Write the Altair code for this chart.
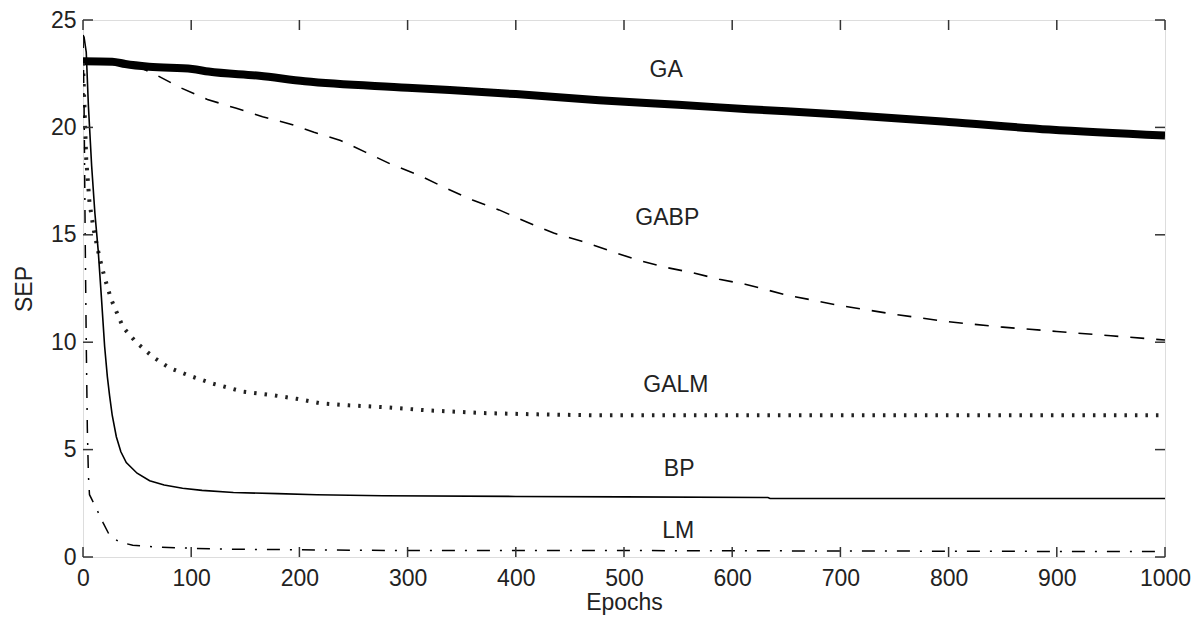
import altair as alt
import pandas as pd

# ---- data ----
ga_x = [0, 27, 39, 61, 101, 116, 163, 205, 300, 400, 477, 550, 615, 700, 800, 893, 1000]
ga_y = [23.08, 23.06, 22.95, 22.82, 22.72, 22.6, 22.4, 22.15, 21.85, 21.55, 21.26, 21.05, 20.85, 20.6, 20.25, 19.9, 19.62]

gabp_x = [0, 27, 50, 67, 90, 115, 141, 166, 192, 213.5, 238, 261, 284, 310.5, 336, 360, 384.5, 409, 435, 461,
          486, 511, 537, 563, 588, 612, 650, 700, 750, 800, 850, 900, 950, 1000]
gabp_y = [23.08, 23.05, 22.85, 22.46, 21.85, 21.3, 20.9, 20.5, 20.15, 19.77, 19.39, 18.85, 18.3, 17.77, 17.16,
          16.62, 16.16, 15.62, 15.08, 14.7, 14.27, 13.85, 13.5, 13.24, 12.93, 12.7, 12.2, 11.7, 11.3, 10.95,
          10.7, 10.5, 10.3, 10.1]

galm_x = [0, 1, 3, 6, 10, 15, 20, 26, 37, 49, 65, 80, 99, 120, 148, 176, 197, 219, 246, 277, 320, 370, 420, 470, 1000]
galm_y = [23.0, 21.5, 18.5, 16.5, 15.2, 14.0, 13.0, 12.0, 10.7, 10.0, 9.3, 8.8, 8.43, 8.07, 7.7, 7.53, 7.37, 7.16,
          7.06, 6.98, 6.82, 6.7, 6.64, 6.6, 6.6]

bp_x = [0, 1, 3, 5, 8, 11, 14, 17, 20, 22.5, 24.6, 27, 30.8, 35, 40, 50, 61.6, 75, 92, 110, 139, 180, 216, 277,
        400, 500, 633, 635, 1000]
bp_y = [24.3, 24.2, 23.5, 21.0, 18.2, 16.0, 14.3, 12.1, 9.8, 8.4, 7.5, 6.6, 5.6, 4.9, 4.4, 3.9, 3.55, 3.35, 3.2,
        3.1, 3.0, 2.95, 2.9, 2.85, 2.82, 2.8, 2.77, 2.72, 2.72]

lm_x = [0, 1, 2, 3, 4, 5, 6, 11, 18.5, 24.6, 34, 46, 68, 123, 216, 300, 500, 700, 1000]
lm_y = [24.3, 21.0, 15.0, 10.0, 6.0, 3.8, 2.9, 2.4, 1.6, 1.0, 0.69, 0.55, 0.46, 0.37, 0.33, 0.3, 0.3, 0.28, 0.25]

label_text = ["GA", "GABP", "GALM", "BP", "LM"]
label_x = [539, 540, 548, 551, 550]
label_y = [22.65, 15.77, 8.03, 4.1, 1.2]

x_ticks = [0, 100, 200, 300, 400, 500, 600, 700, 800, 900, 1000]
y_ticks = [0, 5, 10, 15, 20, 25]

# ---- layout ----
W, H = 1082, 537
FONT = "Liberation Sans"
FS = 23
TL = 10

xs = alt.Scale(domain=[0, 1000], nice=False, zero=False)
ys = alt.Scale(domain=[0, 25], nice=False, zero=False)

X_AXIS = alt.Axis(values=x_ticks, format="d", labelFont=FONT, labelFontSize=FS, labelColor="#222",
                  ticks=False, tickSize=0, domain=False, grid=False, labelPadding=10,
                  labelFlush=False, title="Epochs", titleFont=FONT, titleFontSize=FS,
                  titleFontWeight="normal", titleColor="#222", titleX=W / 2, titleY=45,
                  titleBaseline="middle", titleAlign="center")
Y_AXIS = alt.Axis(values=y_ticks, format="d", labelFont=FONT, labelFontSize=FS, labelColor="#222",
                  ticks=False, tickSize=0, domain=False, grid=False, labelPadding=7,
                  labelFlush=False, title="SEP", titleFont=FONT, titleFontSize=FS,
                  titleFontWeight="normal", titleColor="#222", titleX=-59, titleY=H / 2,
                  titleAngle=-90, titleBaseline="middle", titleAlign="center")


def series(xv, yv):
    return pd.DataFrame({"epoch": xv, "sep": yv})


def line(xv, yv, **kw):
    return alt.Chart(series(xv, yv)).mark_line(clip=True, **kw).encode(
        x=alt.X("epoch:Q", scale=xs, axis=X_AXIS),
        y=alt.Y("sep:Q", scale=ys, axis=Y_AXIS),
    )


ga = line(ga_x, ga_y, color="black", strokeWidth=8, interpolate="monotone")
gabp = line(gabp_x, gabp_y, color="black", strokeWidth=1.6, strokeDash=[14, 12])
galm = line(galm_x, galm_y, color="#222", strokeWidth=4, strokeDash=[2.5, 8], strokeCap="butt")
bp = line(bp_x, bp_y, color="black", strokeWidth=1.6)
lm = line(lm_x, lm_y, color="black", strokeWidth=1.5, strokeDash=[13, 10, 2, 10])

labels = alt.Chart(pd.DataFrame({"t": label_text, "epoch": label_x, "sep": label_y})).mark_text(
    font=FONT, fontSize=FS, color="#222", align="center", baseline="middle"
).encode(
    x=alt.X("epoch:Q", scale=xs, axis=X_AXIS),
    y=alt.Y("sep:Q", scale=ys, axis=Y_AXIS),
    text="t:N",
)

xt = pd.DataFrame({"epoch": x_ticks})
yt = pd.DataFrame({"sep": y_ticks})
tick_bottom = alt.Chart(xt).mark_rule(color="#333", strokeWidth=1.5).encode(
    x=alt.X("epoch:Q", scale=xs, axis=X_AXIS), y=alt.value(H), y2=alt.value(H - TL))
tick_top = alt.Chart(xt).mark_rule(color="#333", strokeWidth=1.5).encode(
    x=alt.X("epoch:Q", scale=xs, axis=X_AXIS), y=alt.value(0), y2=alt.value(TL))
tick_left = alt.Chart(yt).mark_rule(color="#333", strokeWidth=1.5).encode(
    y=alt.Y("sep:Q", scale=ys, axis=Y_AXIS), x=alt.value(0), x2=alt.value(TL))
tick_right = alt.Chart(yt).mark_rule(color="#333", strokeWidth=1.5).encode(
    y=alt.Y("sep:Q", scale=ys, axis=Y_AXIS), x=alt.value(W), x2=alt.value(W - TL))

chart = alt.layer(
    ga, gabp, galm, bp, lm, labels,
    tick_bottom, tick_top, tick_left, tick_right,
).properties(
    width=W, height=H,
    autosize=alt.AutoSizeParams(type="none"),
    padding={"left": 75, "top": 12, "right": 26, "bottom": 60},
).configure_view(
    stroke="#333", strokeWidth=1.5
).configure(background="white")

chart.save("out.html", embed_options={"renderer": "svg", "actions": False})
